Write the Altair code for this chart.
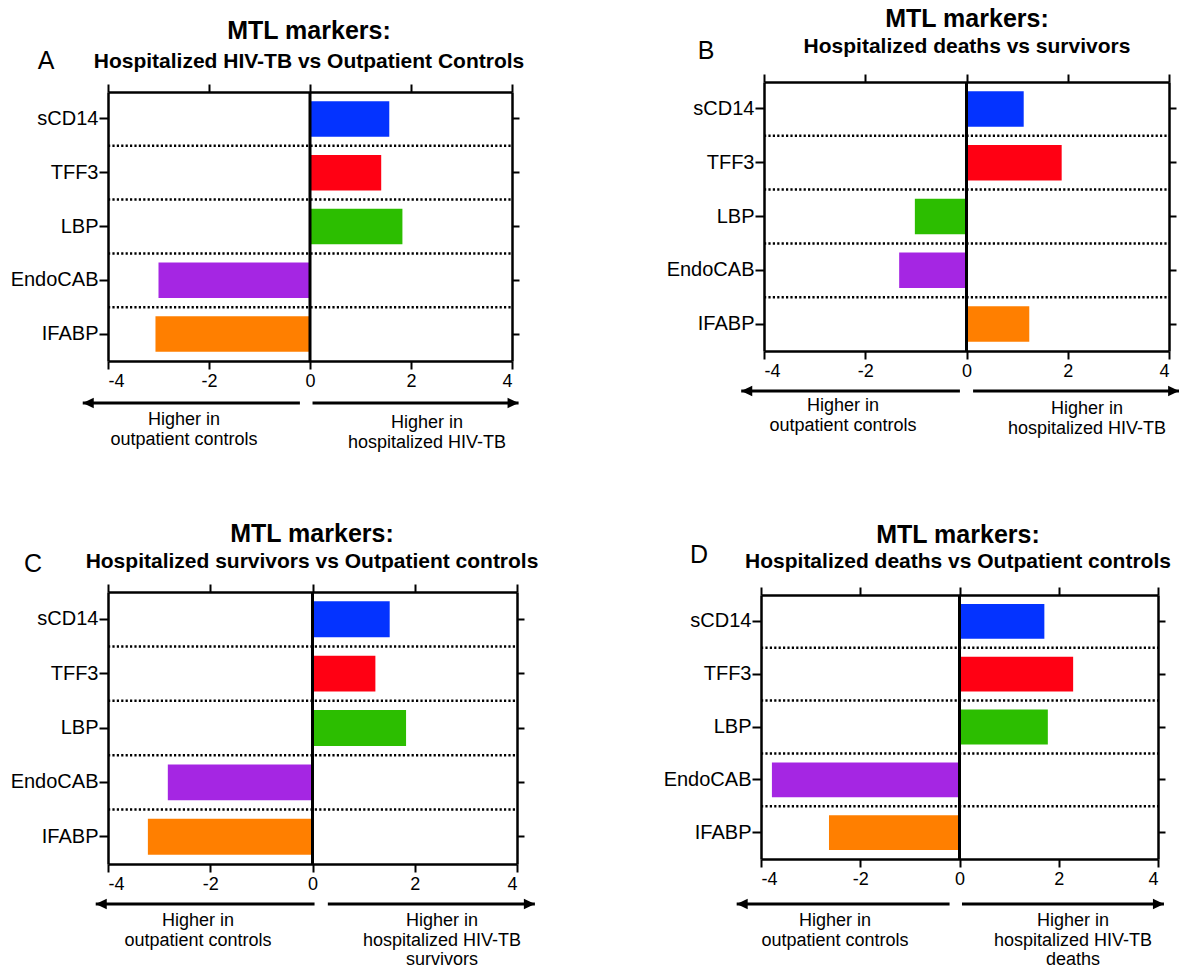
import altair as alt
import pandas as pd

# ---------------------------------------------------------------- data
markers = ["sCD14", "TFF3", "LBP", "EndoCAB", "IFABP"]
marker_colors = ["#0433FF", "#FF0013", "#2CBE00", "#A526E3", "#FF7F00"]

# differences between groups, one list per comparison
diff_a = [1.57, 1.41, 1.83, -3.00, -3.06]
diff_b = [1.13, 1.88, -1.02, -1.33, 1.24]
diff_c = [1.51, 1.23, 1.83, -2.83, -3.22]
diff_d = [1.71, 2.29, 1.78, -3.78, -2.63]

x_ticks = [-4, -2, 0, 2, 4]
panel_letters = ["A", "B", "C", "D"]
heading = "MTL markers:"
subheadings = [
    "Hospitalized HIV-TB vs Outpatient Controls",
    "Hospitalized deaths vs survivors",
    "Hospitalized survivors vs Outpatient controls",
    "Hospitalized deaths vs Outpatient controls",
]
left_notes = ["Higher in", "outpatient controls"]
right_notes = [
    ["Higher in", "hospitalized HIV-TB"],
    ["Higher in", "hospitalized HIV-TB"],
    ["Higher in", "hospitalized HIV-TB", "survivors"],
    ["Higher in", "hospitalized HIV-TB", "deaths"],
]

# ---------------------------------------------------------------- layout
W, H = 1179, 969
FONT = "Liberation Sans"
NOTE_LINE = 19.5
LEFT_HEAD = "M0,0L1,-0.48L1,0.48Z"
RIGHT_HEAD = "M0,0L-1,-0.48L-1,0.48Z"

panels = [
    dict(values=diff_a, frame=(108, 512, 92, 361), arrow_y=403,
         left_arrow=(-0.2, -4.5), right_arrow=(0.05, 4.13),
         head=(309, 39, 68), letter=(46, 69), left_note=(184, 425), right_note=(427, 428)),
    dict(values=diff_b, frame=(764, 1169, 82, 351), arrow_y=391,
         left_arrow=(-0.13, -4.45), right_arrow=(0.13, 4.2),
         head=(967, 27, 53), letter=(706, 59), left_note=(843, 411), right_note=(1087, 414)),
    dict(values=diff_c, frame=(108, 517, 592, 864), arrow_y=904,
         left_arrow=(0.04, -4.24), right_arrow=(0.3, 4.35),
         head=(312, 542, 568), letter=(33, 572), left_note=(198, 926), right_note=(442, 926)),
    dict(values=diff_d, frame=(761, 1158, 595, 859), arrow_y=904,
         left_arrow=(-0.2, -4.49), right_arrow=(0.05, 4.12),
         head=(958, 543, 568), letter=(699, 563), left_note=(835, 926), right_note=(1073, 926)),
]


def frame_axis(orient, offset, labels, **extra):
    return alt.Axis(
        orient=orient, offset=offset, labels=labels, title=None, grid=False,
        domainColor="black", domainWidth=2.5, tickColor="black", tickWidth=2,
        labelColor="black", labelFont=FONT, **extra,
    )


def text_layer(rows, size, weight="normal"):
    df = pd.DataFrame(rows, columns=["text", "px", "py"])
    return alt.Chart(df).mark_text(
        font=FONT, fontSize=size, fontWeight=weight, color="black",
        align="center", baseline="alphabetic",
    ).encode(
        x=alt.X("px:Q", scale=None, axis=None),
        y=alt.Y("py:Q", scale=None, axis=None),
        text="text:N",
    )


layers = []
heading_rows, sub_rows, letter_rows, note_rows = [], [], [], []

for i, spec in enumerate(panels):
    xl, xr, yt, yb = spec["frame"]
    step = (yb - yt) / len(markers)
    xs = alt.Scale(domain=[-4, 4], range=[xl, xr], nice=False, zero=False)
    ys = alt.Scale(domain=markers, range=[yt, yb], paddingInner=0.34, paddingOuter=0.17)

    df = pd.DataFrame({"marker": markers, "value": spec["values"], "base": 0.0,
                       "color": marker_colors})

    bars = alt.Chart(df).mark_bar().encode(
        x=alt.X("value:Q", scale=xs,
                axis=frame_axis("bottom", yb - H, True, values=x_ticks, tickSize=8,
                                labelFontSize=18, labelPadding=3,
                                labelExpr="'' + datum.value")),
        x2="base:Q",
        y=alt.Y("marker:N", scale=ys,
                axis=frame_axis("left", -xl, True, tickSize=9, labelFontSize=20,
                                labelPadding=1)),
        color=alt.Color("color:N", scale=None),
    )

    separators = alt.Chart(df.iloc[:-1]).mark_rule(
        color="black", strokeWidth=2.5, strokeDash=[2.2, 2.2], yOffset=step / 2,
    ).encode(
        y=alt.Y("marker:N", scale=ys,
                axis=frame_axis("right", xr - W, False, tickSize=7)),
        x=alt.value(xl),
        x2=alt.value(xr),
    )

    zero_line = alt.Chart(pd.DataFrame({"base": [0.0]})).mark_rule(
        color="black", strokeWidth=3,
    ).encode(
        x=alt.X("base:Q", scale=xs,
                axis=frame_axis("top", -yt, False, values=x_ticks, tickSize=8)),
        y=alt.value(yt),
        y2=alt.value(yb),
    )

    arrow_df = pd.DataFrame({
        "side": ["left", "right"],
        "tail": [spec["left_arrow"][0], spec["right_arrow"][0]],
        "tip": [spec["left_arrow"][1], spec["right_arrow"][1]],
    })
    shafts = alt.Chart(arrow_df).mark_rule(color="black", strokeWidth=3.2).encode(
        x=alt.X("tail:Q", scale=xs, axis=None),
        x2="tip:Q",
        y=alt.value(spec["arrow_y"]),
    )
    heads = alt.Chart(arrow_df).mark_point(
        filled=True, size=484, opacity=1, color="black", strokeWidth=0,
    ).encode(
        x=alt.X("tip:Q", scale=xs, axis=None),
        y=alt.value(spec["arrow_y"]),
        shape=alt.Shape("side:N", legend=None,
                        scale=alt.Scale(domain=["left", "right"],
                                        range=[LEFT_HEAD, RIGHT_HEAD])),
    )

    layers += [bars, separators, zero_line, shafts, heads]

    hx, hy1, hy2 = spec["head"]
    heading_rows.append((heading, hx, hy1))
    sub_rows.append((subheadings[i], hx, hy2))
    letter_rows.append((panel_letters[i], *spec["letter"]))
    lx, ly = spec["left_note"]
    for k, line in enumerate(left_notes):
        note_rows.append((line, lx, ly + k * NOTE_LINE))
    rx, ry = spec["right_note"]
    for k, line in enumerate(right_notes[i]):
        note_rows.append((line, rx, ry + k * NOTE_LINE))

layers += [
    text_layer(heading_rows, 25, "bold"),
    text_layer(sub_rows, 21, "bold"),
    text_layer(letter_rows, 25),
    text_layer(note_rows, 18),
]

chart = (
    alt.layer(*layers)
    .resolve_scale(x="independent", y="independent", color="independent",
                   shape="independent")
    .resolve_axis(x="independent", y="independent")
    .properties(width=W, height=H, autosize=alt.AutoSizeParams(type="none"),
                padding=0, background="white")
    .configure_view(stroke=None)
)

chart.save("out.html", embed_options={"renderer": "svg", "actions": False})
